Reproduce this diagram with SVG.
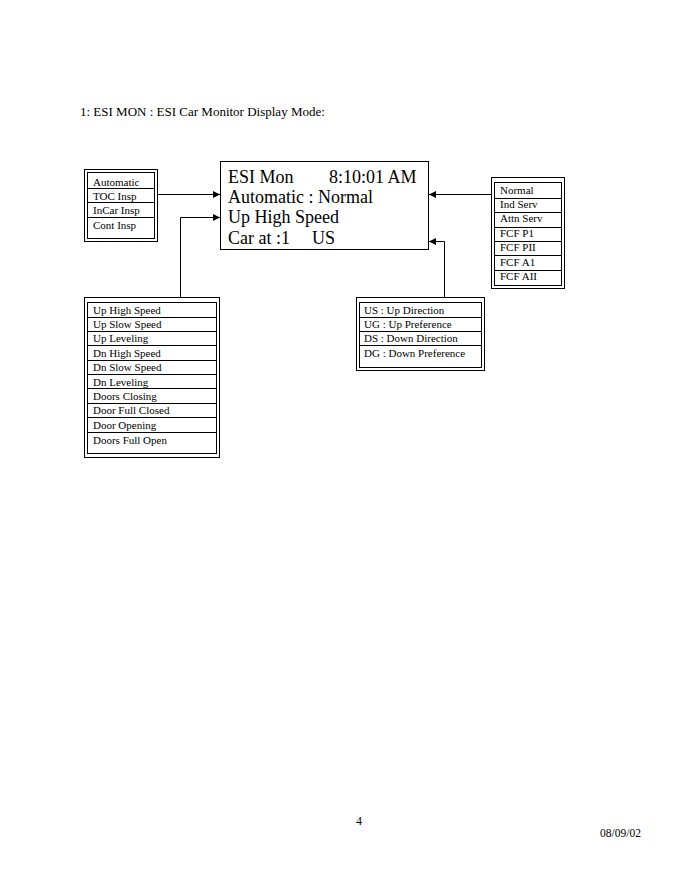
<svg xmlns="http://www.w3.org/2000/svg" width="680" height="880" viewBox="0 0 680 880">
<style>
text{font-family:"Liberation Serif","Times New Roman",serif;fill:#000}
.s{font-size:11px}
.b{font-size:18px}
.fr{fill:none;stroke:#000;stroke-width:1}
.ln{stroke:#000;stroke-width:1}
.cn{fill:none;stroke:#000;stroke-width:1}
</style>
<defs>
<marker id="ah" viewBox="0 0 10 10" refX="10" refY="5" markerWidth="8" markerHeight="7" markerUnits="userSpaceOnUse" orient="auto">
<path d="M0,0 L10,5 L0,10 z" fill="#000"/>
</marker>
</defs>
<rect width="680" height="880" fill="#fff"/>
<text x="80" y="116" style="font-size:13px">1: ESI MON : ESI Car Monitor Display Mode:</text>

<g id="mode-list">
<rect class="fr" x="84.5" y="169.5" width="73" height="72"/>
<rect class="fr" x="87.5" y="172.5" width="67" height="66"/>
<line class="ln" x1="87.5" y1="188.5" x2="154.5" y2="188.5"/>
<line class="ln" x1="87.5" y1="202.5" x2="154.5" y2="202.5"/>
<line class="ln" x1="87.5" y1="217.5" x2="154.5" y2="217.5"/>
<text class="s" x="93" y="186">Automatic</text>
<text class="s" x="93" y="200">TOC Insp</text>
<text class="s" x="93" y="214">InCar Insp</text>
<text class="s" x="93" y="229">Cont Insp</text>
</g>

<g id="display">
<rect class="fr" x="220.5" y="161.5" width="208" height="88"/>
<text class="b" x="228" y="183">ESI Mon</text>
<text class="b" x="329" y="183">8:10:01 AM</text>
<text class="b" x="228" y="203">Automatic : Normal</text>
<text class="b" x="228" y="223">Up High Speed</text>
<text class="b" x="228" y="244">Car at :1</text>
<text class="b" x="312" y="244">US</text>
</g>

<g id="service-list">
<rect class="fr" x="491.5" y="177.5" width="73" height="111"/>
<rect class="fr" x="494.5" y="182.5" width="67" height="103"/>
<line class="ln" x1="494.5" y1="198.5" x2="561.5" y2="198.5"/>
<line class="ln" x1="494.5" y1="212.5" x2="561.5" y2="212.5"/>
<line class="ln" x1="494.5" y1="227.5" x2="561.5" y2="227.5"/>
<line class="ln" x1="494.5" y1="241.5" x2="561.5" y2="241.5"/>
<line class="ln" x1="494.5" y1="255.5" x2="561.5" y2="255.5"/>
<line class="ln" x1="494.5" y1="270.5" x2="561.5" y2="270.5"/>
<text class="s" x="500" y="194">Normal</text>
<text class="s" x="500" y="208">Ind Serv</text>
<text class="s" x="500" y="222">Attn Serv</text>
<text class="s" x="500" y="237">FCF P1</text>
<text class="s" x="500" y="251">FCF PII</text>
<text class="s" x="500" y="266">FCF A1</text>
<text class="s" x="500" y="280">FCF AII</text>
</g>

<g id="motion-list">
<rect class="fr" x="84.5" y="297.5" width="135" height="160"/>
<rect class="fr" x="87.5" y="302.5" width="129" height="151"/>
<line class="ln" x1="87.5" y1="317.5" x2="216.5" y2="317.5"/>
<line class="ln" x1="87.5" y1="331.5" x2="216.5" y2="331.5"/>
<line class="ln" x1="87.5" y1="345.5" x2="216.5" y2="345.5"/>
<line class="ln" x1="87.5" y1="360.5" x2="216.5" y2="360.5"/>
<line class="ln" x1="87.5" y1="374.5" x2="216.5" y2="374.5"/>
<line class="ln" x1="87.5" y1="388.5" x2="216.5" y2="388.5"/>
<line class="ln" x1="87.5" y1="403.5" x2="216.5" y2="403.5"/>
<line class="ln" x1="87.5" y1="417.5" x2="216.5" y2="417.5"/>
<line class="ln" x1="87.5" y1="432.5" x2="216.5" y2="432.5"/>
<text class="s" x="93" y="314">Up High Speed</text>
<text class="s" x="93" y="328">Up Slow Speed</text>
<text class="s" x="93" y="342">Up Leveling</text>
<text class="s" x="93" y="357">Dn High Speed</text>
<text class="s" x="93" y="371">Dn Slow Speed</text>
<text class="s" x="93" y="386">Dn Leveling</text>
<text class="s" x="93" y="400">Doors Closing</text>
<text class="s" x="93" y="414">Door Full Closed</text>
<text class="s" x="93" y="429">Door Opening</text>
<text class="s" x="93" y="444">Doors Full Open</text>
</g>

<g id="direction-list">
<rect class="fr" x="356.5" y="297.5" width="128" height="73"/>
<rect class="fr" x="359.5" y="302.5" width="122" height="65"/>
<line class="ln" x1="359.5" y1="317.5" x2="481.5" y2="317.5"/>
<line class="ln" x1="359.5" y1="331.5" x2="481.5" y2="331.5"/>
<line class="ln" x1="359.5" y1="345.5" x2="481.5" y2="345.5"/>
<text class="s" x="364" y="314">US : Up Direction</text>
<text class="s" x="364" y="328">UG : Up Preference</text>
<text class="s" x="364" y="342">DS : Down Direction</text>
<text class="s" x="364" y="357">DG : Down Preference</text>
</g>

<g id="connectors">
<path class="cn" d="M157.5,194.5 H220" marker-end="url(#ah)"/>
<path class="cn" d="M180.5,297 V217.5 H220" marker-end="url(#ah)"/>
<path class="cn" d="M491,194.5 H429" marker-end="url(#ah)"/>
<path class="cn" d="M444.5,297 V241.5 H429" marker-end="url(#ah)"/>
</g>

<text x="356" y="825" style="font-size:12px">4</text>
<text x="600" y="837" style="font-size:11.5px">08/09/02</text>
</svg>
